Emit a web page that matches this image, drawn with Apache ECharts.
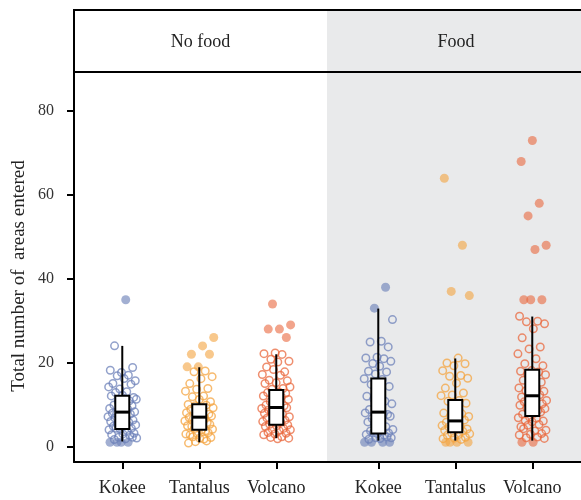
<!DOCTYPE html>
<html><head><meta charset="utf-8">
<script src="https://cdn.jsdelivr.net/npm/echarts@6/dist/echarts.min.js"></script>
<style>html,body{margin:0;padding:0;background:#fff}#c{width:581px;height:500px}</style>
</head><body><div id="c"></div>
<script>
const sites = ['Kokee', 'Tantalus', 'Volcano'];
const panels = ['No food', 'Food'];
const yTicks = [0, 20, 40, 60, 80];
const yTitle = 'Total number of  areas entered';

// raw counts per group
const noFoodKokee = [35, 24, 19, 18, 18, 17, 17, 16, 16, 15, 15, 14, 14, 13, 13, 12, 12, 12, 11, 11, 11, 10, 10, 10, 9, 9, 9, 8, 8, 8, 8, 8, 7, 7, 7, 7, 6, 6, 6, 6, 5, 5, 5, 5, 4, 4, 4, 4, 4, 3, 3, 3, 3, 2, 2, 2, 2, 2, 1, 1, 1, 1];
const noFoodTantalus = [26, 24, 22, 22, 19, 19, 18, 18, 17, 16, 15, 14, 14, 13, 12, 12, 11, 11, 10, 10, 10, 9, 9, 9, 8, 8, 8, 7, 7, 7, 7, 7, 6, 6, 6, 6, 5, 5, 5, 5, 4, 4, 4, 4, 3, 3, 3, 3, 2, 2, 2, 2, 1, 1, 1];
const noFoodVolcano = [34, 29, 28, 28, 26, 22, 22, 22, 21, 20, 20, 19, 18, 18, 17, 17, 16, 16, 15, 15, 14, 14, 14, 13, 13, 13, 12, 12, 12, 11, 11, 11, 10, 10, 10, 9, 9, 9, 9, 8, 8, 8, 8, 7, 7, 7, 6, 6, 6, 6, 5, 5, 5, 5, 4, 4, 4, 4, 3, 3, 3, 3, 2, 2, 2, 2];
const foodKokee = [38, 33, 30, 25, 25, 24, 21, 21, 21, 20, 20, 19, 18, 18, 17, 16, 16, 15, 14, 13, 12, 11, 11, 10, 9, 9, 8, 8, 8, 8, 7, 7, 6, 6, 5, 5, 4, 4, 4, 3, 3, 3, 3, 3, 2, 2, 2, 2, 2, 1, 1, 1, 1];
const foodTantalus = [64, 48, 37, 36, 21, 20, 20, 19, 18, 17, 17, 16, 15, 14, 13, 12, 12, 11, 11, 10, 9, 8, 8, 7, 7, 6, 6, 6, 6, 5, 5, 5, 4, 4, 4, 4, 3, 3, 3, 3, 2, 2, 2, 2, 1, 1, 1, 1];
const foodVolcano = [73, 68, 58, 55, 48, 47, 35, 35, 35, 31, 30, 30, 29, 28, 26, 24, 23, 22, 21, 20, 19, 18, 18, 18, 17, 17, 16, 16, 15, 15, 14, 14, 13, 13, 13, 12, 12, 12, 11, 11, 11, 10, 10, 10, 9, 9, 9, 8, 8, 8, 7, 7, 7, 6, 6, 6, 5, 5, 5, 4, 4, 4, 3, 3, 3, 2, 2, 2, 1, 1];

// box statistics [lower whisker, Q1, median, Q3, upper whisker]
const boxNoFood = [[1.2, 4.2, 8.2, 12.1, 24], [1, 4, 7, 10.1, 18.9], [2, 5.2, 9.3, 13.5, 22]];
const boxFood = [[1.4, 3.1, 8.2, 16.2, 32.9], [1.4, 3.4, 6.1, 11.1, 21], [1.4, 7.3, 12.1, 18.3, 31]];

const colors = ['#6d82b9', '#f4a440', '#e9683d'];
const fillColors = ['rgba(109,130,185,0.8)', 'rgba(244,164,64,0.75)', 'rgba(233,104,61,0.75)'];

const groups = [
  [noFoodKokee, noFoodTantalus, noFoodVolcano],
  [foodKokee, foodTantalus, foodVolcano]
];
const boxes = [boxNoFood, boxFood];

// deterministic jitter (presentation only, like geom_jitter)
function jit(i, g) { return ((((i + 1) * 0.6180339887 + g * 0.377) % 1) - 0.5) * 0.38; }
function jitY(i, g) { return ((((i + 1) * 0.7548776662 + g * 0.211) % 1) - 0.5) * 0.7; }

const serif = '"Liberation Serif", "DejaVu Serif", serif';
const series = [];
for (let p = 0; p < 2; p++) {
  for (let s = 0; s < 3; s++) {
    const b = boxes[p][s];
    const vals = groups[p][s];
    const g = p * 3 + s;
    series.push({
      type: 'scatter', xAxisIndex: p, yAxisIndex: p, z: 2, silent: true,
      data: vals.map((v, i) => {
        const out = v > b[4] || v < b[0];
        return out ? {
          value: [s + 1 + jit(i, g), v], symbolSize: 9,
          itemStyle: { color: fillColors[s], borderWidth: 0 }
        } : {
          value: [s + 1 + jit(i, g), v + jitY(i, g)], symbolSize: 7.5,
          itemStyle: { color: 'rgba(255,255,255,0)', borderColor: colors[s], borderWidth: 1.5, opacity: 0.75 }
        };
      })
    });
  }
  series.push({
    type: 'custom', xAxisIndex: p, yAxisIndex: p, z: 5, silent: true,
    encode: { x: 0, y: [1, 2, 3, 4, 5] },
    data: boxes[p].map((b, s) => [s + 1].concat(b)),
    renderItem: function (params, api) {
      const x = api.value(0);
      const pl = api.coord([x, api.value(1)]);
      const p1 = api.coord([x, api.value(2)]);
      const pm = api.coord([x, api.value(3)]);
      const p3 = api.coord([x, api.value(4)]);
      const ph = api.coord([x, api.value(5)]);
      const cx = pl[0], w = 14;
      return { type: 'group', children: [
        { type: 'line', shape: { x1: cx, y1: ph[1], x2: cx, y2: pl[1] }, style: { stroke: '#000', lineWidth: 2 } },
        { type: 'rect', shape: { x: cx - w / 2, y: p3[1], width: w, height: p1[1] - p3[1] }, style: { fill: '#fff', stroke: '#000', lineWidth: 2 } },
        { type: 'line', shape: { x1: cx - w / 2, y1: pm[1], x2: cx + w / 2, y2: pm[1] }, style: { stroke: '#000', lineWidth: 3 } }
      ] };
    }
  });
}

const axisLineStyle = { show: true, onZero: false, lineStyle: { color: '#000', width: 2 } };
function xAxis(idx, min, max) {
  return {
    type: 'value', gridIndex: idx, min: min, max: max, position: 'bottom',
    axisLine: axisLineStyle, splitLine: { show: false },
    axisTick: { show: true, length: 7, customValues: [1, 2, 3], lineStyle: { color: '#000', width: 2 } },
    axisLabel: { customValues: [1, 2, 3], margin: 17, fontFamily: serif, fontSize: 18, color: '#222',
      formatter: v => sites[Math.round(v) - 1] }
  };
}
function yAxis(idx, show) {
  return {
    type: 'value', gridIndex: idx, min: -3.7, max: 89.1, show: show, position: 'left',
    axisLine: axisLineStyle, splitLine: { show: false },
    axisTick: { show: true, length: 7, customValues: yTicks, lineStyle: { color: '#000', width: 2 } },
    axisLabel: { customValues: yTicks, margin: 20, fontFamily: serif, fontSize: 16, color: '#333' }
  };
}

const option = {
  animation: false,
  backgroundColor: '#fff',
  grid: [
    { left: 74, top: 73, width: 253, height: 389, containLabel: false },
    { left: 327, top: 73, width: 254, height: 389, containLabel: false, show: true, backgroundColor: '#e9eaeb', borderWidth: 0 }
  ],
  xAxis: [xAxis(0, 0.373, 3.659), xAxis(1, 0.334, 3.633)],
  yAxis: [yAxis(0, true), yAxis(1, false)],
  graphic: [
    { type: 'rect', z: -1, shape: { x: 327, y: 10, width: 254, height: 62 }, style: { fill: '#e9eaeb' } },
    { type: 'line', z: 10, shape: { x1: 73, y1: 10, x2: 581, y2: 10 }, style: { stroke: '#000', lineWidth: 2 } },
    { type: 'line', z: 10, shape: { x1: 73, y1: 72, x2: 581, y2: 72 }, style: { stroke: '#000', lineWidth: 2 } },
    { type: 'line', z: 10, shape: { x1: 74, y1: 9, x2: 74, y2: 462 }, style: { stroke: '#000', lineWidth: 2 } },
    { type: 'text', z: 10, x: 200.5, y: 42, style: { text: panels[0], fontFamily: serif, fontSize: 18, fill: '#222', align: 'center', verticalAlign: 'middle' } },
    { type: 'text', z: 10, x: 456, y: 42, style: { text: panels[1], fontFamily: serif, fontSize: 18, fill: '#222', align: 'center', verticalAlign: 'middle' } },
    { type: 'text', z: 10, x: 19, y: 276, rotation: Math.PI / 2, style: { text: yTitle, fontFamily: serif, fontSize: 19, fill: '#222', align: 'center', verticalAlign: 'middle' } }
  ],
  series: series
};
const chart = echarts.init(document.getElementById('c'), null, { renderer: 'canvas' });
chart.setOption(option);
</script>
</body></html>
